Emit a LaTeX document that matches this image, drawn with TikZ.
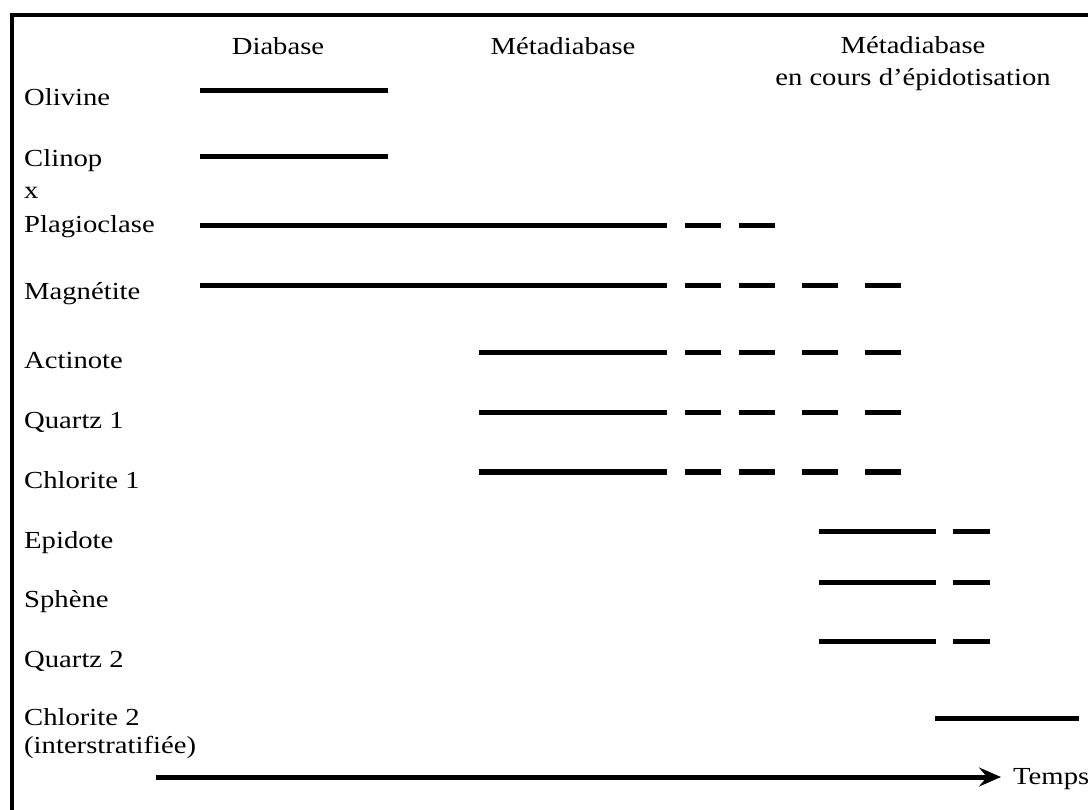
\documentclass[tikz,border=0pt]{standalone}
\usepackage{fontspec}
\setmainfont{Liberation Serif}[FakeStretch=1.17]
\usetikzlibrary{arrows.meta}
\begin{document}
\begin{tikzpicture}[x=1pt,y=-1pt,
  bar/.style={line width=5pt},
  lab/.style={anchor=base west,inner sep=0pt,font=\fontsize{24.5}{29}\selectfont},
  hdr/.style={anchor=base,inner sep=0pt,font=\fontsize{24.5}{29}\selectfont}]
\useasboundingbox (0,0) rectangle (1088,810);
\draw[line width=4pt] (12,812) -- (12,15) -- (1090,15);
% headers
\node[hdr] (diab) at (278,55) {Diabase};
\node[hdr] (meta) at (563,55) {Métadiabase};
\node[hdr] (metaB) at (913,54) {Métadiabase};
\node[hdr] (epid) at (913,86) {en cours d’épidotisation};
% labels
\node[lab] (oli) at (24,106) {Olivine};
\node[lab] (cli) at (24,167) {Clinop};
\node[lab] (xx) at (24,199) {x};
\node[lab] (pla) at (24,233) {Plagioclase};
\node[lab] (mag) at (24,300) {Magnétite};
\node[lab] (act) at (24,369) {Actinote};
\node[lab] (qa) at (24,429) {Quartz 1};
\node[lab] (ca) at (24,488) {Chlorite 1};
\node[lab] (epi) at (24,548) {Epidote};
\node[lab] (sph) at (24,607) {Sphène};
\node[lab] (qb) at (24,667) {Quartz 2};
\node[lab] (cb) at (24,725) {Chlorite 2};
\node[lab] (inter) at (24,753) {(interstratifiée)};
% bars
\draw[bar] (200,91) -- (388,91);
\draw[bar] (200,157) -- (388,157);
\draw[bar] (200,226) -- (667,226);
\foreach \a in {685,739} \draw[bar] (\a,226) -- ++(36,0);
\draw[bar] (200,286) -- (667,286);
\foreach \a in {685,739,802,865} \draw[bar] (\a,286) -- ++(36,0);
\foreach \y in {353,413,472}{
  \draw[bar] (479,\y) -- (667,\y);
  \foreach \a in {685,739,802,865} \draw[bar] (\a,\y) -- ++(36,0);
}
\foreach \y in {531,582,641}{
  \draw[bar] (819,\y) -- (936,\y);
  \draw[bar] (953,\y) -- (990,\y);
}
\draw[bar] (935,718) -- (1079,718);
% time arrow
\node[lab] (temps) at (1013,784) {Temps};
\coordinate (tstart) at (156,777);
\coordinate (tend) at (1001,777);
\draw[line width=5pt,-{Stealth[length=22pt,width=19pt,inset=8pt]}] (tstart) -- (tend);
\end{tikzpicture}
\end{document}
